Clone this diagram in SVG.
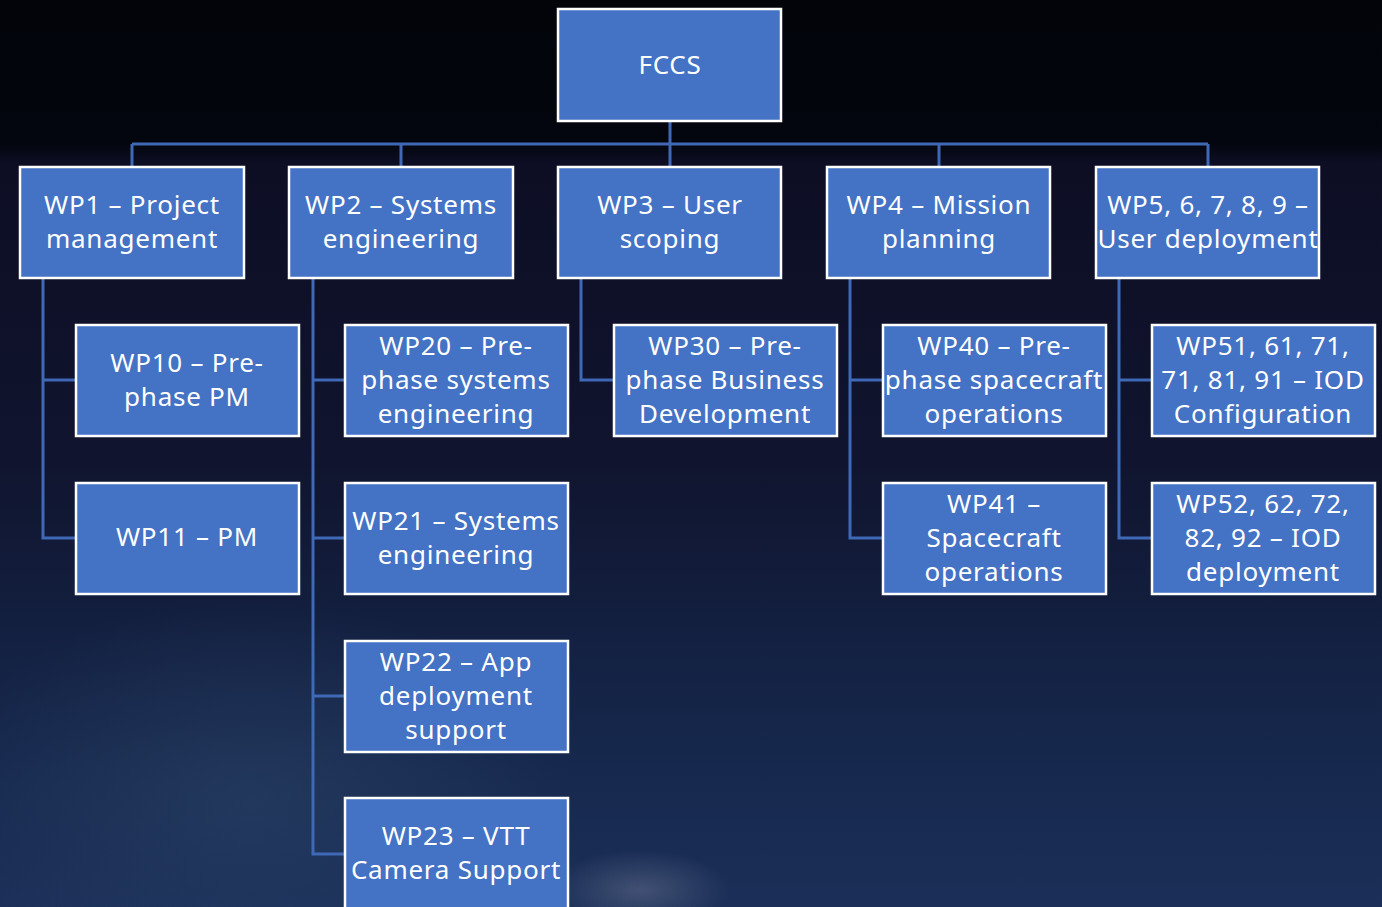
<svg xmlns="http://www.w3.org/2000/svg" width="1382" height="907" viewBox="0 0 1382 907">
<defs>
<linearGradient id="bg" x1="0" y1="0" x2="0" y2="1">
<stop offset="0" stop-color="#02040a"/>
<stop offset="0.16" stop-color="#04060f"/>
<stop offset="0.18" stop-color="#0d0e24"/>
<stop offset="0.5" stop-color="#10142e"/>
<stop offset="0.8" stop-color="#15264a"/>
<stop offset="1" stop-color="#1b2f58"/>
</linearGradient>
<radialGradient id="glow1" cx="0.5" cy="0.5" r="0.5">
<stop offset="0" stop-color="#2c4468" stop-opacity="0.55"/>
<stop offset="1" stop-color="#2c4468" stop-opacity="0"/>
</radialGradient>
<radialGradient id="glow2" cx="0.5" cy="0.5" r="0.5">
<stop offset="0" stop-color="#8a90a8" stop-opacity="0.35"/>
<stop offset="1" stop-color="#8a90a8" stop-opacity="0"/>
</radialGradient>
</defs>
<style>
.box{fill:#4472C4;stroke:#ffffff;stroke-width:2.5}
.lbl{font-family:"Noto Sans","Open Sans","DejaVu Sans",sans-serif;font-size:26px;letter-spacing:0.75px;fill:#ffffff;text-anchor:middle}
.conn{fill:none;stroke:#3F69B6;stroke-width:3}
</style>
<rect width="1382" height="907" fill="url(#bg)"/>
<ellipse cx="250" cy="800" rx="320" ry="200" fill="url(#glow1)"/>
<ellipse cx="640" cy="890" rx="90" ry="40" fill="url(#glow2)"/>
<g id="connectors">
<path class="conn" d="M670 121V167M132 144H1208M132 144V167M401 144V167M939 144V167M1208 144V167"/>
<path class="conn" d="M43 279V538H76M43 380H76"/>
<path class="conn" d="M313 279V854H345M313 380H345M313 538H345M313 696H345"/>
<path class="conn" d="M581 279V380H614"/>
<path class="conn" d="M850 279V538H883M850 380H883"/>
<path class="conn" d="M1119 279V538H1152M1119 380H1152"/>
</g>
<g id="fccs"><rect class="box" x="558" y="9" width="223" height="112"/><text class="lbl" x="670" y="74">FCCS</text></g>
<g id="wp1"><rect class="box" x="20" y="167" width="224" height="111"/><text class="lbl" x="132" y="214">WP1 – Project</text><text class="lbl" x="132" y="248">management</text></g>
<g id="wp2"><rect class="box" x="289" y="167" width="224" height="111"/><text class="lbl" x="401" y="214">WP2 – Systems</text><text class="lbl" x="401" y="248">engineering</text></g>
<g id="wp3"><rect class="box" x="558" y="167" width="223" height="111"/><text class="lbl" x="670" y="214">WP3 – User</text><text class="lbl" x="670" y="248">scoping</text></g>
<g id="wp4"><rect class="box" x="827" y="167" width="223" height="111"/><text class="lbl" x="939" y="214">WP4 – Mission</text><text class="lbl" x="939" y="248">planning</text></g>
<g id="wp5"><rect class="box" x="1096" y="167" width="223" height="111"/><text class="lbl" x="1208" y="214">WP5, 6, 7, 8, 9 –</text><text class="lbl" x="1208" y="248">User deployment</text></g>
<g id="wp10"><rect class="box" x="76" y="325" width="223" height="111"/><text class="lbl" x="187" y="372">WP10 – Pre-</text><text class="lbl" x="187" y="406">phase PM</text></g>
<g id="wp11"><rect class="box" x="76" y="483" width="223" height="111"/><text class="lbl" x="187" y="546">WP11 – PM</text></g>
<g id="wp20"><rect class="box" x="345" y="325" width="223" height="111"/><text class="lbl" x="456" y="355">WP20 – Pre-</text><text class="lbl" x="456" y="389">phase systems</text><text class="lbl" x="456" y="423">engineering</text></g>
<g id="wp21"><rect class="box" x="345" y="483" width="223" height="111"/><text class="lbl" x="456" y="530">WP21 – Systems</text><text class="lbl" x="456" y="564">engineering</text></g>
<g id="wp22"><rect class="box" x="345" y="641" width="223" height="111"/><text class="lbl" x="456" y="671">WP22 – App</text><text class="lbl" x="456" y="705">deployment</text><text class="lbl" x="456" y="739">support</text></g>
<g id="wp23"><rect class="box" x="345" y="798" width="223" height="112"/><text class="lbl" x="456" y="845">WP23 – VTT</text><text class="lbl" x="456" y="879">Camera Support</text></g>
<g id="wp30"><rect class="box" x="614" y="325" width="223" height="111"/><text class="lbl" x="725" y="355">WP30 – Pre-</text><text class="lbl" x="725" y="389">phase Business</text><text class="lbl" x="725" y="423">Development</text></g>
<g id="wp40"><rect class="box" x="883" y="325" width="223" height="111"/><text class="lbl" x="994" y="355">WP40 – Pre-</text><text class="lbl" x="994" y="389">phase spacecraft</text><text class="lbl" x="994" y="423">operations</text></g>
<g id="wp41"><rect class="box" x="883" y="483" width="223" height="111"/><text class="lbl" x="994" y="513">WP41 –</text><text class="lbl" x="994" y="547">Spacecraft</text><text class="lbl" x="994" y="581">operations</text></g>
<g id="wp51"><rect class="box" x="1152" y="325" width="223" height="111"/><text class="lbl" x="1263" y="355">WP51, 61, 71,</text><text class="lbl" x="1263" y="389">71, 81, 91 – IOD</text><text class="lbl" x="1263" y="423">Configuration</text></g>
<g id="wp52"><rect class="box" x="1152" y="483" width="223" height="111"/><text class="lbl" x="1263" y="513">WP52, 62, 72,</text><text class="lbl" x="1263" y="547">82, 92 – IOD</text><text class="lbl" x="1263" y="581">deployment</text></g>
</svg>
